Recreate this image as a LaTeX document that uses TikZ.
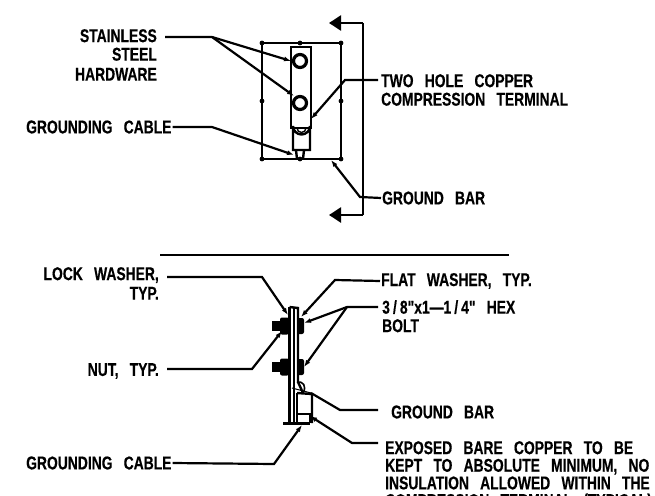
\documentclass[tikz,border=0pt]{standalone}
\usepackage{fontspec}
\usetikzlibrary{arrows.meta}
\newfontfamily\cadfont[FakeStretch=0.75,WordSpace=2.9,BoldFeatures={FakeBold=0.4}]{Liberation Sans}
\tikzset{
    cadtext/.style={inner sep=0pt,align=left,font=\cadfont\bfseries\fontsize{18.5}{18.5}\selectfont},
    cadright/.style={cadtext,align=right},
    leader/.style={line width=2.2pt,-{Latex[length=7pt,width=5pt]}},
    cutline/.style={line width=2.4pt,-{Triangle[length=12pt,width=15pt]}}
}
\begin{document}
\begin{tikzpicture}[x=1pt,y=-1pt,line width=2.4pt]
    \useasboundingbox (0,0) rectangle (655,495);
    \clip (0,0) rectangle (655,495);
    % plan view
    \draw (262,43) rectangle (341,159);
    \foreach \x in {262,300,341} {
        \foreach \y in {43,101,159} {
            \ifnum\x=300 \ifnum\y=101 \else \fill (\x,\y) circle (2.4); \fi \else \fill (\x,\y) circle (2.4); \fi
        }
    }
    \draw (291,47) rectangle (311,128);
    \foreach \y in {61,103} {
        \draw[line width=3.2pt] (300,\y) circle (6.5);
    }
    \draw (293,126) arc (180:0:8.5) -- (310,150) -- (293,150) -- cycle;
    \draw[line width=1.4pt] (297,128) arc (180:0:4.5) -- cycle;
    \draw (296,150) -- (297,159);
    \draw (304,150) -- (303,159);
    \coordinate (cutTop) at (329,23);
    \coordinate (cutBottom) at (329,215);
    \coordinate (cutTopBend) at (363,23);
    \coordinate (cutBottomBend) at (363,215);
    \draw[cutline] (cutTopBend) -- (cutTop);
    \draw[cutline] (cutBottomBend) -- (cutBottom);
    \draw (cutTopBend) -- (cutBottomBend);
    % divider
    \coordinate (dividerA) at (160,255);
    \coordinate (dividerB) at (509,255);
    \draw (dividerA) -- (dividerB);
    % side view
    \draw (289.5,307) -- (289.5,423);
    \draw (294,307) -- (294,423);
    \draw (289.5,307) -- (298,308) -- (298,382) -- (303,393);
    \draw (283,423.5) -- (310,423.5);
    \foreach \y in {326,367} {
        \fill (272,\y-5) rectangle (281,\y+5);
        \fill[rounded corners=2pt] (280,\y-8.5) rectangle (289,\y+8.5);
        \fill[rounded corners=2pt] (297,\y-8) rectangle (304,\y+8);
    }
    \draw[line width=1.6pt] (297,382) .. controls (303,381) and (307,386) .. (303,393);
    \draw (297,393) -- (312,394) -- (312,423);
    \draw (297,393) -- (297,423);
    \draw (297,414) -- (310,414) -- (310,423);
    % labels
    \node[cadright,anchor=north east] (stainless) at (158,28) {STAINLESS\\STEEL\\[1.5pt]HARDWARE};
    \node[cadtext,anchor=west] (cablePlan) at (25,127) {GROUNDING CABLE};
    \node[cadtext,anchor=north west] (terminal) at (380,73) {TWO HOLE COPPER\\COMPRESSION TERMINAL};
    \node[cadtext,anchor=west] (barPlan) at (381,198) {GROUND BAR};
    \node[cadright,anchor=north east] (lockwasher) at (160,266) {LOCK WASHER,\\[1pt]TYP.};
    \node[cadtext,anchor=west] (flatwasher) at (380,281) {FLAT WASHER, TYP.};
    \node[cadtext,anchor=north west] (hexbolt) at (381,299) {3\,/\,8"x1—1\,/\,4" HEX\\BOLT};
    \node[cadtext,anchor=east] (nut) at (160,371) {NUT, TYP.};
    \node[cadtext,anchor=west] (barSide) at (390,412) {GROUND BAR};
    \node[cadtext,anchor=west] (cableSide) at (25,463) {GROUNDING CABLE};
    \node[cadtext,anchor=north west,font=\cadfont\bfseries\fontsize{18.5}{17.6}\selectfont] (copper) at (384,440) {EXPOSED BARE COPPER TO BE\\KEPT TO ABSOLUTE MINIMUM, NO\\INSULATION ALLOWED WITHIN THE\\COMPRESSION TERMINAL (TYPICAL)};
    % leaders
    \coordinate (stainlessStart) at (165,37);
    \coordinate (stainlessBend) at (212,37);
    \coordinate (boltTop) at (291,61);
    \coordinate (boltLow) at (294,96);
    \draw[leader] (stainlessStart) -- (stainlessBend) -- (boltTop);
    \draw[leader] (stainlessBend) -- (boltLow);
    \coordinate (cableBend) at (212,127);
    \coordinate (cableEnd) at (294,155);
    \draw[leader] (cablePlan.east) -- (cableBend) -- (cableEnd);
    \coordinate (terminalStart) at (378,80);
    \coordinate (terminalBend) at (345,80);
    \coordinate (terminalEnd) at (311,119);
    \draw[leader] (terminalStart) -- (terminalBend) -- (terminalEnd);
    \coordinate (barBend) at (360,197);
    \coordinate (barEnd) at (331,160);
    \draw[leader] (barPlan.west) -- (barBend) -- (barEnd);
    \coordinate (lockStart) at (167,277);
    \coordinate (lockBend) at (262,277);
    \coordinate (lockEnd) at (288,315);
    \draw[leader] (lockStart) -- (lockBend) -- (lockEnd);
    \coordinate (flatBend) at (335,280);
    \coordinate (flatEnd) at (301,317);
    \draw[leader] (flatwasher.west) -- (flatBend) -- (flatEnd);
    \coordinate (hexStart) at (378,307);
    \coordinate (hexBend) at (347,307);
    \coordinate (hexTop) at (304,323);
    \coordinate (hexLow) at (304,367);
    \draw[leader] (hexStart) -- (hexBend) -- (hexTop);
    \draw[leader] (hexBend) -- (hexLow);
    \coordinate (nutStart) at (167,369);
    \coordinate (nutBend) at (252,369);
    \coordinate (nutEnd) at (282,331);
    \draw[leader] (nutStart) -- (nutBend) -- (nutEnd);
    \coordinate (barSideStart) at (378,410);
    \coordinate (barSideBend) at (340,410);
    \coordinate (barSideKnee) at (311,393);
    \coordinate (barSideEnd) at (292,388);
    \draw[line width=2.2pt] (barSideStart) -- (barSideBend) -- (barSideKnee);
    \draw[line width=1pt] (barSideKnee) -- (barSideEnd);
    \coordinate (copperStart) at (378,443);
    \coordinate (copperBend) at (352,443);
    \coordinate (copperEnd) at (310,416);
    \draw[leader] (copperStart) -- (copperBend) -- (copperEnd);
    \coordinate (cableSideBend) at (274,464);
    \coordinate (cableSideEnd) at (302,425);
    \draw[leader] (cableSide.east) -- (cableSideBend) -- (cableSideEnd);
\end{tikzpicture}
\end{document}
